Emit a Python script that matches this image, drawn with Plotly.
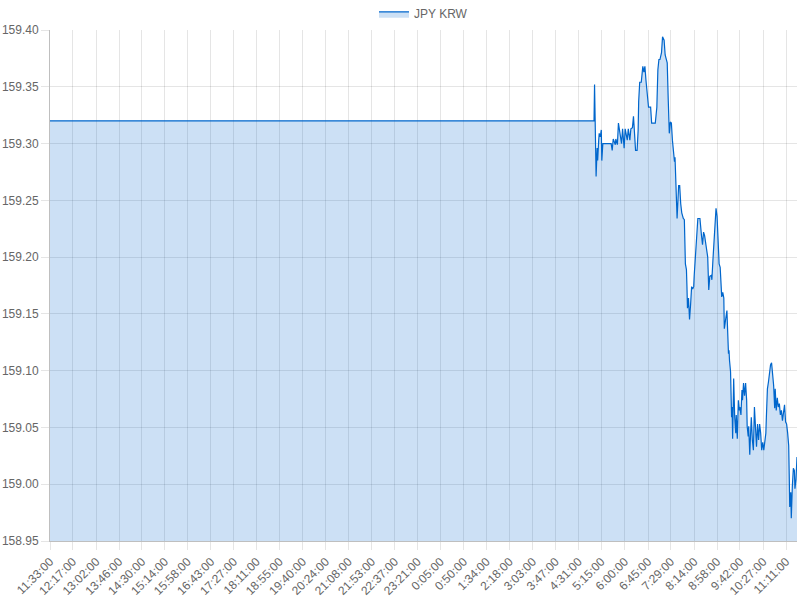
import plotly.graph_objects as go

# minute readings, the first one is on the previous day
times = [
    "11:33", "05:01", "05:02", "05:05", "05:07", "05:08", "05:10", "05:11", "05:13", "05:15",
    "05:16", "05:18", "05:34", "05:36", "05:38", "05:42", "05:43", "05:46", "05:48", "05:51",
    "05:54", "05:56", "05:59", "06:01", "06:05", "06:07", "06:10", "06:12", "06:15", "06:17",
    "06:21", "06:24", "06:26", "06:27", "06:29", "06:32", "06:35", "06:37", "06:39", "06:41",
    "06:44", "06:46", "06:50", "06:52", "06:59", "07:02", "07:04", "07:06", "07:08", "07:11",
    "07:13", "07:16", "07:18", "07:22", "07:24", "07:25", "07:26", "07:28", "07:30", "07:32",
    "07:34", "07:36", "07:37", "07:39", "07:40", "07:41", "07:44", "07:46", "07:48", "07:50",
    "07:53", "07:55", "07:57", "07:59", "08:00", "08:01", "08:03", "08:05", "08:07", "08:09",
    "08:11", "08:13", "08:14", "08:16", "08:18", "08:21", "08:25", "08:27", "08:28", "08:30",
    "08:32", "08:34", "08:36", "08:38", "08:40", "08:42", "08:44", "08:47", "08:48", "08:50",
    "08:52", "08:54", "08:56", "08:58", "09:00", "09:02", "09:04", "09:06", "09:07", "09:09",
    "09:11", "09:12", "09:15", "09:17", "09:18", "09:20", "09:21", "09:22", "09:24", "09:26",
    "09:27", "09:28", "09:30", "09:32", "09:34", "09:35", "09:37", "09:39", "09:41", "09:42",
    "09:44", "09:46", "09:47", "09:49", "09:51", "09:53", "09:55", "09:56", "09:58", "09:59",
    "10:01", "10:03", "10:04", "10:06", "10:08", "10:10", "10:12", "10:14", "10:16", "10:18",
    "10:20", "10:22", "10:24", "10:26", "10:28", "10:30", "10:32", "10:33", "10:35", "10:37",
    "10:39", "10:41", "10:43", "10:45", "10:47", "10:49", "10:50", "10:52", "10:54", "10:56",
    "10:58", "11:00", "11:02", "11:04", "11:06", "11:08", "11:10", "11:12", "11:14", "11:16",
    "11:17", "11:18", "11:20", "11:21", "11:23", "11:25", "11:27", "11:28", "11:30", "11:32",
]
values = [
    159.320, 159.320, 159.352, 159.271, 159.296, 159.285, 159.303, 159.309, 159.306, 159.312,
    159.285, 159.300, 159.300, 159.294, 159.304, 159.299, 159.304, 159.299, 159.318, 159.309,
    159.300, 159.313, 159.296, 159.313, 159.303, 159.313, 159.303, 159.313, 159.314, 159.324,
    159.294, 159.294, 159.312, 159.337, 159.354, 159.354, 159.368, 159.363, 159.368, 159.356,
    159.344, 159.332, 159.332, 159.318, 159.318, 159.332, 159.365, 159.374, 159.374, 159.380,
    159.394, 159.391, 159.378, 159.371, 159.338, 159.324, 159.309, 159.319, 159.318, 159.303,
    159.294, 159.284, 159.288, 159.262, 159.244, 159.234, 159.263, 159.263, 159.247, 159.239,
    159.234, 159.233, 159.194, 159.189, 159.174, 159.155, 159.164, 159.145, 159.158, 159.174,
    159.172, 159.174, 159.184, 159.200, 159.218, 159.234, 159.234, 159.221, 159.219, 159.211,
    159.222, 159.219, 159.212, 159.203, 159.200, 159.171, 159.183, 159.184, 159.180, 159.197,
    159.213, 159.218, 159.243, 159.236, 159.218, 159.194, 159.191, 159.178, 159.165, 159.169,
    159.164, 159.137, 159.149, 159.153, 159.140, 159.115, 159.118, 159.109, 159.099, 159.059,
    159.068, 159.040, 159.093, 159.059, 159.045, 159.061, 159.040, 159.074, 159.065, 159.068,
    159.061, 159.083, 159.074, 159.089, 159.078, 159.089, 159.074, 159.051, 159.042, 159.051,
    159.026, 159.049, 159.059, 159.039, 159.030, 159.068, 159.045, 159.033, 159.053, 159.039,
    159.053, 159.045, 159.030, 159.037, 159.030, 159.039, 159.045, 159.059, 159.084, 159.090,
    159.098, 159.105, 159.107, 159.099, 159.087, 159.067, 159.084, 159.065, 159.076, 159.068,
    159.071, 159.061, 159.065, 159.056, 159.064, 159.070, 159.055, 159.053, 159.045, 159.034,
    159.009, 158.980, 158.993, 158.970, 158.998, 159.014, 159.012, 158.996, 159.004, 159.024,
]
tick_labels = [
    "11:33:00", "12:17:00", "13:02:00", "13:46:00", "14:30:00", "15:14:00", "15:58:00",
    "16:43:00", "17:27:00", "18:11:00", "18:55:00", "19:40:00", "20:24:00", "21:08:00",
    "21:53:00", "22:37:00", "23:21:00", "0:05:00", "0:50:00", "1:34:00", "2:18:00",
    "3:03:00", "3:47:00", "4:31:00", "5:15:00", "6:00:00", "6:45:00", "7:29:00",
    "8:14:00", "8:58:00", "9:42:00", "10:27:00", "11:11:00",
]
series_name = "JPY KRW"


def to_dates(clock_list):
    # assign the first day until the clock wraps past midnight
    out = []
    day = 1
    prev = None
    for c in clock_list:
        h, m = c.split(":")[:2]
        minutes = int(h) * 60 + int(m)
        if prev is not None and minutes < prev:
            day = 2
        prev = minutes
        out.append(f"2024-01-0{day} {int(h):02d}:{int(m):02d}:00")
    return out


def main():
    x = to_dates(times)
    tickvals = to_dates(tick_labels)

    fig = go.Figure()
    fig.add_trace(go.Scatter(
        x=x, y=values, name=series_name,
        mode="lines",
        line=dict(color="rgb(0,102,204)", width=1.2),
        fill="tozeroy",
        fillcolor="rgba(0,102,204,0.2)",
    ))

    fig.update_layout(
        width=800, height=600,
        margin=dict(l=50, r=3, t=30, b=59, autoexpand=False),
        paper_bgcolor="white",
        plot_bgcolor="white",
        font=dict(family="Liberation Sans, Arial, sans-serif", size=12, color="#666"),
        showlegend=True,
        legend=dict(
            orientation="h", x=0.5, xanchor="center",
            yref="container", y=0.977, yanchor="middle",
            font=dict(size=12, color="#666"),
            bgcolor="rgba(0,0,0,0)",
        ),
    )
    fig.update_xaxes(
        type="date",
        range=["2024-01-01 11:33:00", "2024-01-02 11:32:00"],
        tickvals=tickvals, ticktext=tick_labels,
        tickangle=-45,
        showgrid=True, gridcolor="rgba(0,0,0,0.1)", gridwidth=1,
        ticks="outside", ticklen=8, tickcolor="rgba(0,0,0,0.1)",
        showline=True, linecolor="rgba(0,0,0,0.25)", linewidth=1,
        automargin=False,
    )
    fig.update_yaxes(
        range=[158.95, 159.40],
        dtick=0.05, tick0=158.95, tickformat=".2f",
        showgrid=True, gridcolor="rgba(0,0,0,0.1)", gridwidth=1,
        ticks="outside", ticklen=8, tickcolor="rgba(0,0,0,0.1)",
        showline=True, linecolor="rgba(0,0,0,0.25)", linewidth=1,
        zeroline=False,
        automargin=False,
    )

    # drop the default page margin so the 800x600 figure fills the window
    fig.write_html(
        "out.html",
        config={"displayModeBar": False},
        post_script="document.body.style.margin = '0';",
    )


if __name__ == "__main__":
    main()
